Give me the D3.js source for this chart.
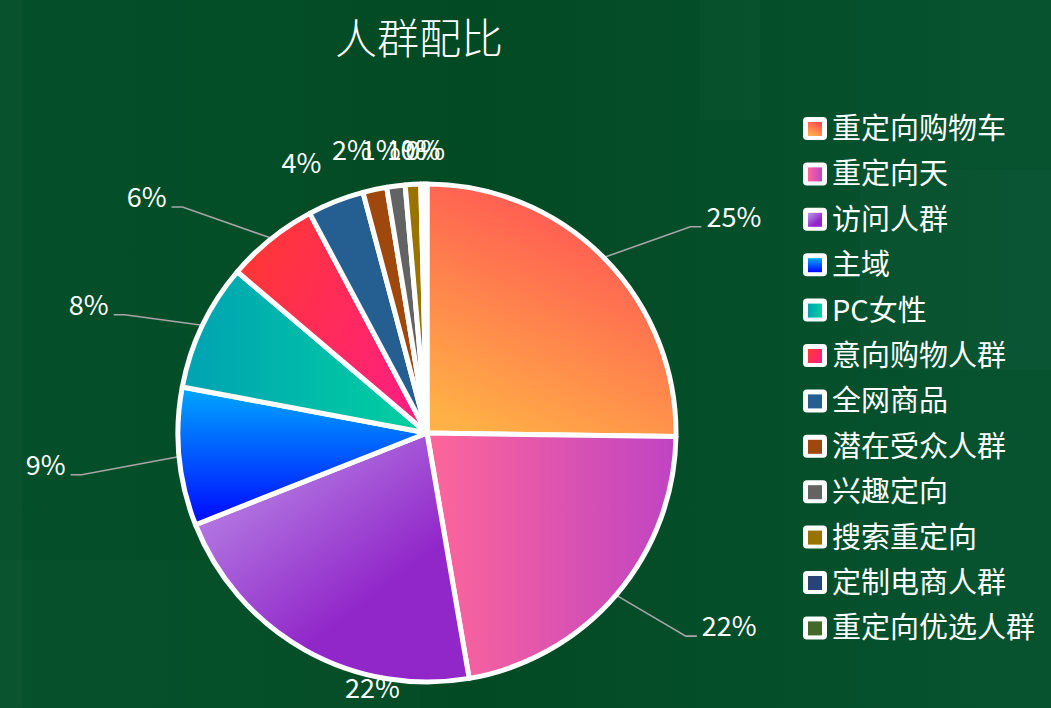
<!DOCTYPE html>
<html><head><meta charset="utf-8">
<script src="https://cdn.jsdelivr.net/npm/d3@7"></script>
<style>
html,body{margin:0;padding:0;background:#034b26;overflow:hidden}
svg{display:block}
text{font-family:"Noto Sans CJK SC","Noto Sans",sans-serif}
</style></head><body>
<svg id="chart" width="1051" height="708"></svg>
<script>
// ---- data ----
const categories = ["重定向购物车","重定向天","访问人群","主域","PC女性","意向购物人群","全网商品","潜在受众人群","兴趣定向","搜索重定向","定制电商人群","重定向优选人群"];
const shares = [25.25,22.08,21.72,8.97,8.26,5.99,3.67,1.55,1.19,1.0,0.2,0.2];
const chartTitle = "人群配比";

// ---- styles ----
const colorStart = ["#ff4d55","#ff6699","#bc90e8","#00a8ff","#00a2b3","#ff3833","#255e91","#9e480e","#636363","#997300","#264478","#43682b"];
const colorEnd   = ["#ffb046","#bf43c3","#9126c9","#0006ff","#00d19f","#ff1e82","#255e91","#9e480e","#636363","#997300","#264478","#43682b"];
const gradDir = [[0.7,0,0.25,1],[0,0,1,0],[0,0.1,0.55,0.75],[0,0,0,1],[0,0,1,0],[0,0.2,1,0.8]];

// ---- layout ----
const W = 1051, H = 708;
const cx = 427, cy = 433, R = 249;
const labelMode = ["leader","leader","box","leader","leader","leader","box","box","box","box","box","box"];
const labelNudge = [[2,-2],[-5,14],[88,1],[-15,14],[9,7],[0,0.5],[-19,1],[-14,0],[-10,0],[-4,0],[-1,0],[0,0]];

const svg = d3.select("#chart");
const defs = svg.append("defs");

// background
const bg = defs.append("linearGradient").attr("id","bg").attr("x1",0).attr("y1",0).attr("x2",1).attr("y2",0);
bg.append("stop").attr("offset",0).attr("stop-color","#04502a");
bg.append("stop").attr("offset",0.45).attr("stop-color","#024a24");
bg.append("stop").attr("offset",1).attr("stop-color","#075330");
svg.append("rect").attr("width",W).attr("height",H).attr("fill","url(#bg)");
const tex = [[0,0,22,708,0.02],[700,0,60,120,0.02],[860,170,200,200,0.015],[0,560,420,148,0.012]];
svg.selectAll("rect.tex").data(tex).join("rect").attr("class","tex")
  .attr("x",d=>d[0]).attr("y",d=>d[1]).attr("width",d=>d[2]).attr("height",d=>d[3])
  .attr("fill","#ffffff").attr("opacity",d=>d[4]);

// gradients
categories.forEach((c,i)=>{
  const dir = gradDir[i] || [0,0,0,1];
  const g = defs.append("linearGradient").attr("id","g"+i)
    .attr("x1",dir[0]).attr("y1",dir[1]).attr("x2",dir[2]).attr("y2",dir[3]);
  g.append("stop").attr("offset",0).attr("stop-color",colorStart[i]);
  g.append("stop").attr("offset",1).attr("stop-color",colorEnd[i]);
});

// title
svg.append("text").attr("x",419).attr("y",54).attr("text-anchor","middle")
  .attr("font-size",42).attr("font-weight",300).attr("fill","#ffffff").text(chartTitle);

const total = d3.sum(shares);
const pie = d3.pie().sort(null).value(d=>d);
const arcs = pie(shares);
const arc = d3.arc().innerRadius(0).outerRadius(R);
const pct = v => Math.round(v/total*100) + "%";

// labels (drawn beneath the pie)
const lab = svg.append("g");
const rEdge = R + 2, rOut = R + 42, rLine = 333;
arcs.forEach((a,i)=>{
  const m = (a.startAngle + a.endAngle)/2;
  const ux = Math.sin(m), uy = -Math.cos(m);
  const nd = labelNudge[i];
  const txt = pct(a.data);
  if (labelMode[i] === "leader") {
    const side = ux < 0 ? -1 : 1;
    const y2 = cy + rOut*uy + nd[1];
    const dy = y2 - cy;
    const x2 = cx + side*Math.sqrt(rLine*rLine - dy*dy) + nd[0];
    const x3 = x2 + side*11;
    const p1 = [cx + rEdge*ux, cy + rEdge*uy];
    lab.append("path").attr("d", d3.line()([p1,[x2,y2],[x3,y2]]))
      .attr("fill","none").attr("stroke","#a6a6a6").attr("stroke-width",1.6);
    lab.append("text").attr("x", x3 + side*5).attr("y", y2)
      .attr("text-anchor", side < 0 ? "end" : "start")
      .attr("font-size",27).attr("fill","#ffffff").text(txt);
  } else {
    const bx = cx + rOut*ux + nd[0];
    const by = Math.max(cy + rOut*uy, 150) + nd[1];
    lab.append("text").attr("x", bx).attr("y", by + 10)
      .attr("text-anchor","middle").attr("font-size",27).attr("fill","#ffffff").text(txt);
  }
});

// pie
svg.append("g").attr("transform",`translate(${cx},${cy})`)
  .selectAll("path").data(arcs).join("path")
  .attr("d",arc)
  .attr("fill",(d,i)=>`url(#g${i})`)
  .attr("stroke","#ffffff").attr("stroke-width",5).attr("stroke-linejoin","round");

// legend
const leg = svg.append("g").attr("transform","translate(803,117)");
const rows = leg.selectAll("g").data(categories).join("g")
  .attr("transform",(d,i)=>`translate(0,${i*45.4})`);
rows.append("rect").attr("width",24).attr("height",23).attr("rx",4).attr("fill","#ffffff");
rows.append("rect").attr("x",5).attr("y",5).attr("width",14).attr("height",14).attr("fill",(d,i)=>`url(#g${i})`);
rows.append("text").attr("x",29).attr("y",22).attr("font-size",29).attr("fill","#ffffff").text(d=>d);
</script>
</body></html>
